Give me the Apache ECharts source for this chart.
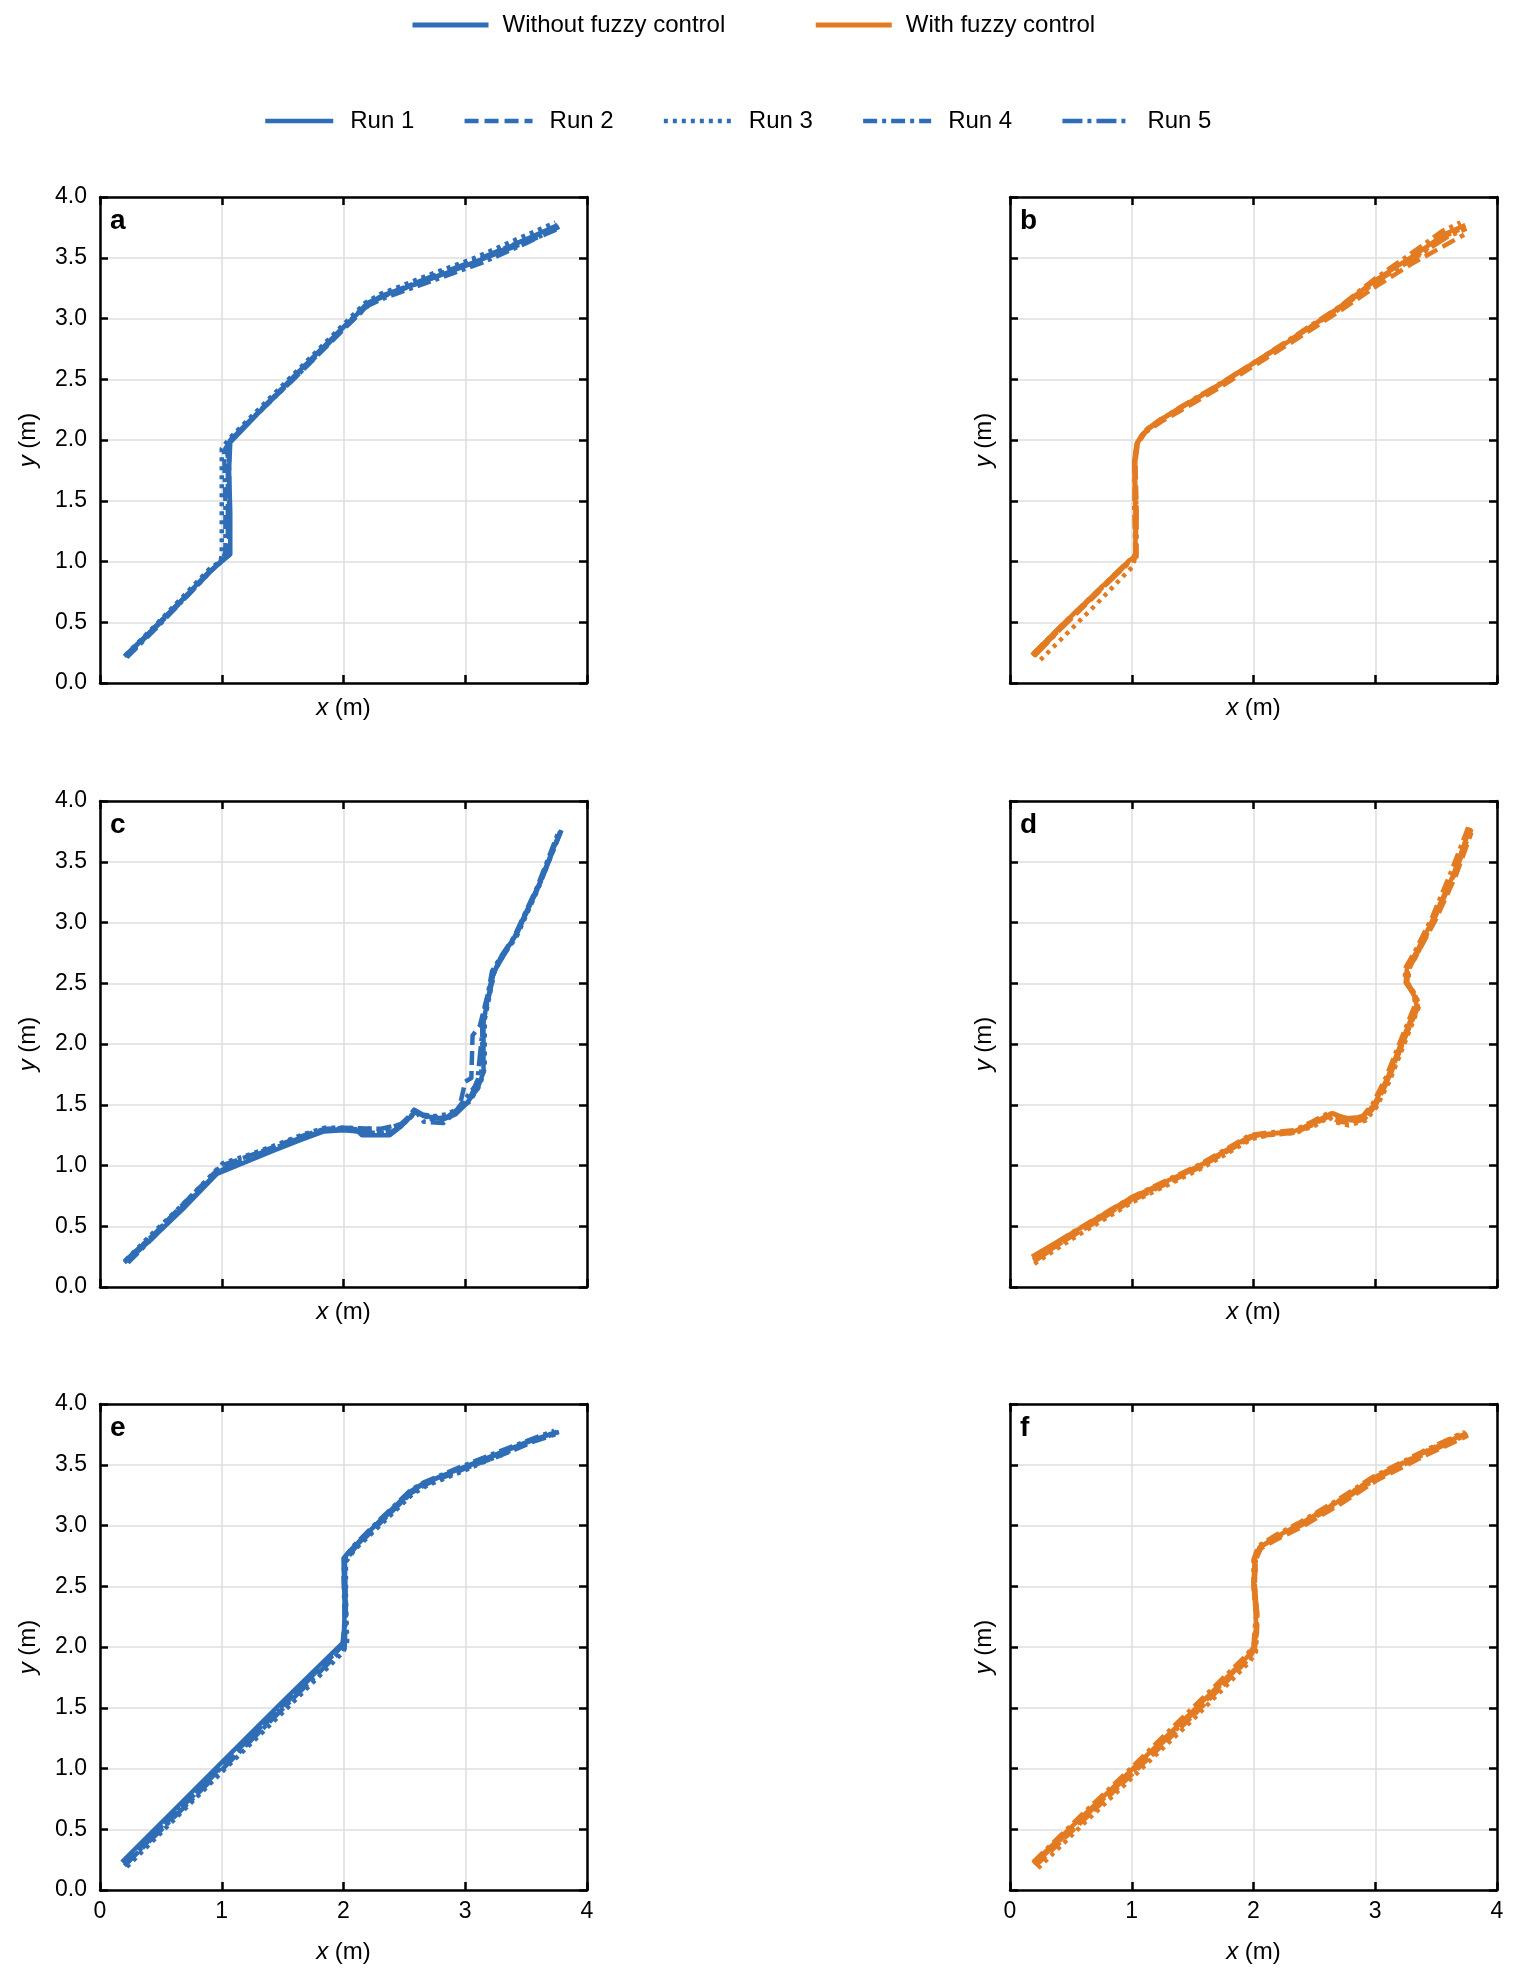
<!DOCTYPE html>
<html>
<head>
    <meta charset="UTF-8"/>
    <script type="text/javascript" src="https://cdn.jsdelivr.net/npm/echarts@6/dist/echarts.min.js"></script>
    <title>Trajectories</title>
    <style>
        html, body { margin: 0; padding: 0; background: #fff; }
        #chart { width: 1515px; height: 1979px; }
    </style>
</head>
<body>
<div id="chart"></div>

<script type="application/javascript">
    // ---- data: [x, y] in metres ----
    // a: without fuzzy control
    var a1 = [[0.20,0.22],[0.42,0.43],[0.68,0.69],[0.90,0.92],[1.00,1.00],[1.07,1.06],[1.07,1.40],[1.06,1.75],[1.07,1.98],[1.30,2.22],[1.62,2.55],[1.95,2.88],[2.20,3.12],[2.32,3.19],[2.70,3.32],[3.10,3.47],[3.45,3.63],[3.76,3.77]];
    var a2 = [[0.22,0.22],[0.45,0.45],[0.70,0.70],[0.92,0.93],[1.02,1.02],[1.05,1.06],[1.05,1.45],[1.05,1.95],[1.09,2.02],[1.35,2.27],[1.65,2.56],[1.98,2.89],[2.22,3.13],[2.35,3.19],[2.72,3.33],[3.12,3.48],[3.48,3.62],[3.77,3.74]];
    var a3 = [[0.21,0.23],[0.44,0.46],[0.69,0.72],[0.90,0.94],[0.99,1.00],[1.00,1.06],[1.00,1.50],[1.00,1.93],[1.06,2.01],[1.33,2.28],[1.64,2.59],[1.96,2.91],[2.18,3.13],[2.30,3.20],[2.68,3.35],[3.08,3.50],[3.44,3.66],[3.74,3.79]];
    var a4 = [[0.22,0.21],[0.46,0.45],[0.71,0.71],[0.93,0.94],[1.01,1.02],[1.03,1.08],[1.03,1.50],[1.02,1.90],[1.07,2.00],[1.34,2.26],[1.66,2.57],[1.97,2.89],[2.21,3.11],[2.34,3.17],[2.73,3.31],[3.14,3.46],[3.50,3.62],[3.78,3.76]];
    var a5 = [[0.21,0.22],[0.45,0.46],[0.70,0.71],[0.91,0.93],[1.00,1.01],[1.06,1.05],[1.06,1.30],[1.06,1.85],[1.03,1.93],[1.08,2.01],[1.34,2.27],[1.65,2.58],[1.97,2.90],[2.20,3.13],[2.31,3.18],[2.71,3.34],[3.11,3.49],[3.47,3.64],[3.76,3.75]];

    // b: with fuzzy control
    var b1 = [[0.18,0.23],[0.42,0.47],[0.70,0.74],[0.95,0.98],[1.03,1.05],[1.03,1.40],[1.02,1.80],[1.04,1.96],[1.10,2.06],[1.23,2.16],[1.38,2.25],[1.70,2.44],[2.00,2.63],[2.35,2.85],[2.70,3.09],[3.01,3.32],[3.35,3.54],[3.58,3.70],[3.74,3.77]];
    var b2 = [[0.19,0.22],[0.43,0.46],[0.71,0.73],[0.96,0.98],[1.03,1.04],[1.04,1.45],[1.03,1.82],[1.05,1.97],[1.11,2.06],[1.24,2.15],[1.40,2.24],[1.72,2.43],[2.02,2.62],[2.37,2.84],[2.72,3.07],[3.03,3.28],[3.30,3.45],[3.55,3.59],[3.73,3.69]];
    var b3 = [[0.25,0.19],[0.45,0.39],[0.72,0.66],[0.95,0.90],[1.01,0.96],[1.03,1.05],[1.03,1.50],[1.02,1.85],[1.05,1.98],[1.11,2.07],[1.24,2.17],[1.39,2.26],[1.71,2.45],[2.01,2.64],[2.36,2.86],[2.71,3.08],[3.02,3.31],[3.36,3.53],[3.60,3.69],[3.73,3.75]];
    var b4 = [[0.19,0.24],[0.43,0.48],[0.71,0.75],[0.96,0.99],[1.03,1.06],[1.02,1.45],[1.03,1.84],[1.05,1.99],[1.11,2.08],[1.24,2.17],[1.38,2.26],[1.70,2.45],[2.01,2.64],[2.36,2.87],[2.71,3.10],[3.00,3.33],[3.33,3.56],[3.55,3.72],[3.70,3.79]];
    var b5 = [[0.20,0.22],[0.44,0.47],[0.71,0.74],[0.97,0.98],[1.04,1.04],[1.04,1.42],[1.02,1.82],[1.04,1.97],[1.10,2.07],[1.22,2.16],[1.37,2.25],[1.69,2.44],[1.99,2.63],[2.34,2.85],[2.70,3.08],[3.02,3.31],[3.36,3.52],[3.59,3.67],[3.75,3.74]];

    // c: without fuzzy control
    var c1 = [[0.22,0.21],[0.45,0.42],[0.70,0.66],[0.96,0.93],[1.20,1.03],[1.42,1.12],[1.65,1.21],[1.84,1.28],[2.00,1.29],[2.12,1.28],[2.15,1.25],[2.38,1.25],[2.47,1.32],[2.59,1.44],[2.66,1.41],[2.82,1.38],[2.92,1.42],[3.01,1.51],[3.10,1.63],[3.15,1.77],[3.15,2.18],[3.18,2.35],[3.23,2.57],[3.29,2.71],[3.40,2.87],[3.60,3.30],[3.78,3.75]];
    var c2 = [[0.20,0.20],[0.44,0.43],[0.70,0.70],[1.00,1.00],[1.20,1.07],[1.42,1.15],[1.65,1.24],[1.84,1.30],[2.00,1.31],[2.30,1.30],[2.47,1.34],[2.59,1.45],[2.70,1.38],[2.85,1.40],[2.95,1.47],[3.00,1.69],[3.05,1.72],[3.06,2.07],[3.12,2.15],[3.17,2.35],[3.23,2.58],[3.30,2.72],[3.42,2.90],[3.61,3.32],[3.79,3.76]];
    var c3 = [[0.21,0.22],[0.44,0.45],[0.70,0.70],[1.01,1.02],[1.20,1.08],[1.42,1.16],[1.65,1.25],[1.84,1.31],[2.00,1.31],[2.35,1.30],[2.50,1.35],[2.60,1.44],[2.68,1.40],[2.85,1.42],[3.03,1.52],[3.12,1.66],[3.16,1.80],[3.16,2.20],[3.20,2.40],[3.24,2.60],[3.32,2.74],[3.42,2.88],[3.60,3.28],[3.77,3.72]];
    var c4 = [[0.23,0.20],[0.46,0.43],[0.71,0.68],[0.97,0.95],[1.20,1.05],[1.42,1.13],[1.65,1.22],[1.84,1.29],[2.10,1.30],[2.14,1.27],[2.40,1.27],[2.50,1.35],[2.59,1.45],[2.66,1.36],[2.82,1.35],[2.90,1.42],[3.00,1.55],[3.08,1.65],[3.14,1.80],[3.14,2.20],[3.18,2.38],[3.22,2.60],[3.30,2.73],[3.40,2.88],[3.59,3.29],[3.76,3.73]];
    var c5 = [[0.20,0.21],[0.45,0.44],[0.71,0.69],[0.98,0.96],[1.20,1.06],[1.42,1.14],[1.65,1.23],[1.84,1.29],[2.05,1.30],[2.12,1.28],[2.40,1.28],[2.48,1.33],[2.58,1.46],[2.65,1.42],[2.82,1.39],[2.92,1.43],[3.05,1.58],[3.10,1.70],[3.13,2.00],[3.15,2.20],[3.19,2.37],[3.24,2.60],[3.31,2.72],[3.41,2.88],[3.61,3.31],[3.79,3.76]];

    // d: with fuzzy control
    var d1 = [[0.18,0.25],[0.47,0.42],[0.99,0.73],[1.56,1.00],[1.97,1.24],[2.11,1.26],[2.33,1.28],[2.49,1.35],[2.64,1.43],[2.71,1.40],[2.79,1.39],[2.90,1.40],[2.99,1.50],[3.10,1.72],[3.23,2.05],[3.34,2.32],[3.32,2.40],[3.25,2.51],[3.26,2.62],[3.34,2.76],[3.48,3.04],[3.64,3.39],[3.78,3.78]];
    var d2 = [[0.19,0.22],[0.48,0.40],[1.00,0.71],[1.57,0.99],[1.98,1.23],[2.12,1.25],[2.34,1.27],[2.50,1.34],[2.63,1.41],[2.70,1.36],[2.80,1.35],[2.91,1.38],[3.00,1.49],[3.11,1.71],[3.24,2.04],[3.35,2.30],[3.33,2.38],[3.26,2.50],[3.27,2.61],[3.35,2.75],[3.50,3.03],[3.66,3.38],[3.79,3.74]];
    var d3 = [[0.20,0.19],[0.50,0.39],[1.01,0.70],[1.58,0.98],[1.99,1.22],[2.13,1.25],[2.35,1.27],[2.51,1.33],[2.62,1.40],[2.66,1.36],[2.78,1.33],[2.92,1.37],[3.01,1.48],[3.12,1.70],[3.25,2.03],[3.36,2.31],[3.34,2.39],[3.27,2.50],[3.28,2.62],[3.36,2.77],[3.50,3.06],[3.65,3.40],[3.77,3.76]];
    var d4 = [[0.19,0.24],[0.48,0.43],[1.00,0.74],[1.56,1.01],[1.97,1.25],[2.11,1.27],[2.33,1.29],[2.48,1.36],[2.63,1.44],[2.70,1.41],[2.80,1.38],[2.90,1.41],[2.98,1.51],[3.09,1.73],[3.22,2.06],[3.33,2.33],[3.31,2.42],[3.24,2.52],[3.25,2.63],[3.33,2.77],[3.47,3.05],[3.62,3.41],[3.77,3.80]];
    var d5 = [[0.20,0.21],[0.49,0.41],[1.00,0.72],[1.57,1.00],[1.98,1.24],[2.12,1.26],[2.34,1.28],[2.50,1.35],[2.65,1.42],[2.72,1.38],[2.82,1.37],[2.91,1.39],[3.00,1.50],[3.11,1.72],[3.24,2.05],[3.35,2.31],[3.33,2.40],[3.26,2.51],[3.27,2.62],[3.35,2.76],[3.49,3.04],[3.65,3.39],[3.79,3.77]];

    // e: without fuzzy control
    var e1 = [[0.18,0.23],[0.60,0.65],[1.00,1.05],[1.50,1.55],[2.00,2.04],[2.01,2.30],[2.00,2.73],[2.08,2.82],[2.30,3.04],[2.55,3.28],[2.66,3.35],[2.99,3.48],[3.29,3.60],[3.55,3.70],[3.75,3.77]];
    var e2 = [[0.20,0.22],[0.61,0.63],[1.01,1.03],[1.51,1.53],[2.00,2.02],[2.02,2.35],[2.01,2.70],[2.09,2.81],[2.31,3.03],[2.56,3.27],[2.68,3.34],[3.00,3.47],[3.30,3.58],[3.56,3.69],[3.74,3.75]];
    var e3 = [[0.22,0.19],[0.62,0.59],[1.02,0.99],[1.52,1.48],[2.00,1.96],[2.03,2.05],[2.02,2.40],[2.02,2.70],[2.09,2.80],[2.32,3.02],[2.57,3.26],[2.69,3.33],[3.01,3.46],[3.31,3.59],[3.57,3.70],[3.76,3.76]];
    var e4 = [[0.21,0.21],[0.61,0.62],[1.01,1.02],[1.51,1.52],[1.99,2.01],[2.01,2.20],[2.00,2.60],[2.01,2.74],[2.08,2.83],[2.30,3.05],[2.55,3.29],[2.67,3.36],[2.98,3.49],[3.28,3.61],[3.54,3.71],[3.73,3.78]];
    var e5 = [[0.20,0.20],[0.62,0.61],[1.02,1.01],[1.52,1.51],[2.01,2.00],[2.02,2.28],[2.01,2.65],[2.02,2.75],[2.09,2.82],[2.31,3.04],[2.56,3.28],[2.67,3.35],[3.00,3.48],[3.30,3.60],[3.56,3.71],[3.77,3.77]];

    // f: with fuzzy control
    var f1 = [[0.19,0.22],[0.60,0.61],[0.99,0.98],[1.50,1.47],[1.95,1.92],[2.00,2.00],[2.02,2.15],[2.02,2.27],[2.00,2.51],[2.01,2.73],[2.05,2.82],[2.19,2.91],[2.38,3.01],[2.70,3.20],[2.99,3.39],[3.40,3.60],[3.75,3.76]];
    var f2 = [[0.21,0.20],[0.62,0.59],[1.01,0.96],[1.52,1.45],[1.96,1.90],[2.01,1.98],[2.03,2.15],[2.03,2.28],[2.01,2.52],[2.02,2.72],[2.06,2.81],[2.20,2.89],[2.40,2.99],[2.72,3.18],[3.01,3.37],[3.42,3.58],[3.76,3.74]];
    var f3 = [[0.23,0.18],[0.63,0.57],[1.02,0.94],[1.53,1.43],[1.97,1.88],[2.02,1.96],[2.03,2.15],[2.02,2.30],[2.01,2.50],[2.02,2.74],[2.06,2.83],[2.20,2.92],[2.39,3.02],[2.71,3.21],[3.00,3.40],[3.41,3.61],[3.74,3.77]];
    var f4 = [[0.19,0.23],[0.59,0.62],[0.98,0.99],[1.49,1.49],[1.94,1.93],[2.00,2.01],[2.01,2.15],[2.02,2.26],[2.00,2.50],[2.00,2.72],[2.04,2.83],[2.18,2.92],[2.37,3.02],[2.69,3.21],[2.98,3.40],[3.39,3.61],[3.73,3.77]];
    var f5 = [[0.20,0.21],[0.61,0.60],[1.00,0.97],[1.51,1.46],[1.95,1.91],[2.01,1.99],[2.02,2.14],[2.03,2.27],[2.01,2.51],[2.01,2.73],[2.05,2.82],[2.19,2.90],[2.39,3.00],[2.71,3.19],[3.00,3.38],[3.41,3.59],[3.76,3.75]];

    var runNames = ['Run 1', 'Run 2', 'Run 3', 'Run 4', 'Run 5'];
    var groupNames = ['Without fuzzy control', 'With fuzzy control'];
    var panelLetters = ['a', 'b', 'c', 'd', 'e', 'f'];
    var xTicks = [0, 1, 2, 3, 4];
    var yTicks = [0, 0.5, 1, 1.5, 2, 2.5, 3, 3.5, 4];

    var BLUE = '#2f6eb6';
    var ORANGE = '#e27b22';
    var FONT = 'Liberation Sans, Arial, Helvetica, sans-serif';

    var panelRuns = [
        [a1, a2, a3, a4, a5],
        [b1, b2, b3, b4, b5],
        [c1, c2, c3, c4, c5],
        [d1, d2, d3, d4, d5],
        [e1, e2, e3, e4, e5],
        [f1, f2, f3, f4, f5]
    ];

    // line styles for the five runs
    var dashes = ['solid', [14, 6], [4, 5], [14, 5, 4, 5], [20, 5, 4, 5]];

    var colLeft = [100, 1010];
    var rowTop = [197, 801, 1404];
    var plotW = 487, plotH = 486;

    function initChart() {
        var myChart = echarts.init(document.getElementById('chart'), null, {renderer: 'canvas'});

        var grids = [], xAxes = [], yAxes = [], series = [], graphics = [];
        var frameLine = {show: true, onZero: false, lineStyle: {color: '#000', width: 2.5}};
        var tick = {show: true, inside: true, length: 8, lineStyle: {color: '#000', width: 2.5}};
        var nameStyle = {
            fontSize: 24, fontFamily: FONT, color: '#000',
            rich: {i: {fontStyle: 'italic', fontSize: 24, fontFamily: FONT, color: '#000'}}
        };

        for (var p = 0; p < 6; p++) {
            var col = p % 2, row = Math.floor(p / 2);
            var left = colLeft[col], top = rowTop[row];
            var color = col === 0 ? BLUE : ORANGE;

            grids.push({left: left, top: top, width: plotW, height: plotH, containLabel: false});

            xAxes.push({
                gridIndex: p, type: 'value', position: 'bottom',
                min: xTicks[0], max: xTicks[xTicks.length - 1], interval: 1,
                axisLine: frameLine, axisTick: tick,
                axisLabel: {show: row === 2, fontSize: 23, fontFamily: FONT, color: '#000', margin: 10},
                splitLine: {show: true, lineStyle: {color: '#dedede', width: 1.5}},
                name: '{i|x} (m)', nameLocation: 'middle', nameGap: row === 2 ? 50 : 13,
                nameTextStyle: nameStyle
            });
            xAxes.push({
                gridIndex: p, type: 'value', position: 'top',
                min: xTicks[0], max: xTicks[xTicks.length - 1], interval: 1,
                axisLine: frameLine, axisTick: tick,
                axisLabel: {show: false}, splitLine: {show: false}
            });
            yAxes.push({
                gridIndex: p, type: 'value', position: 'left',
                min: yTicks[0], max: yTicks[yTicks.length - 1], interval: 0.5,
                axisLine: frameLine, axisTick: tick,
                axisLabel: {
                    show: col === 0, fontSize: 23, fontFamily: FONT, color: '#000', margin: 13,
                    formatter: function (v) { return v.toFixed(1); }
                },
                splitLine: {show: true, lineStyle: {color: '#dedede', width: 1.5}},
                name: '{i|y} (m)', nameLocation: 'middle', nameGap: col === 0 ? 60 : 14,
                nameTextStyle: nameStyle
            });
            yAxes.push({
                gridIndex: p, type: 'value', position: 'right',
                min: yTicks[0], max: yTicks[yTicks.length - 1], interval: 0.5,
                axisLine: frameLine, axisTick: tick,
                axisLabel: {show: false}, splitLine: {show: false}
            });

            var runs = panelRuns[p];
            for (var k = 0; k < runs.length; k++) {
                series.push({
                    name: runNames[k],
                    type: 'line',
                    xAxisIndex: p * 2,
                    yAxisIndex: p * 2,
                    data: runs[k],
                    symbol: 'none',
                    color: color,
                    lineStyle: {color: color, width: 4.5, type: dashes[k], cap: 'butt', join: 'round'},
                    silent: true,
                    z: 3
                });
            }

            graphics.push({
                type: 'text', left: left + 10, top: top + 10,
                style: {text: panelLetters[p], font: 'bold 28px ' + FONT, fill: '#000'}
            });
        }

        // empty series that only feed the colour legend
        series.push({name: groupNames[0], type: 'line', data: [], symbol: 'none', color: BLUE,
            lineStyle: {color: BLUE, width: 5}, xAxisIndex: 0, yAxisIndex: 0});
        series.push({name: groupNames[1], type: 'line', data: [], symbol: 'none', color: ORANGE,
            lineStyle: {color: ORANGE, width: 5}, xAxisIndex: 0, yAxisIndex: 0});

        // legend symbols are hidden, only the line samples are kept
        var noMarker = {color: 'rgba(0,0,0,0)', borderWidth: 0, borderColor: 'rgba(0,0,0,0)'};

        var option = {
            animation: false,
            backgroundColor: '#fff',
            textStyle: {fontFamily: FONT},
            legend: [
                {
                    data: groupNames, left: 410, top: 13, padding: 0,
                    itemWidth: 76, itemHeight: 24, itemGap: 88,
                    lineStyle: {width: 5},
                    itemStyle: noMarker,
                    selectedMode: false,
                    textStyle: {fontSize: 24, fontFamily: FONT, color: '#000', padding: [0, 0, 0, 9]}
                },
                {
                    data: runNames, left: 263, top: 109, padding: 0,
                    itemWidth: 68, itemHeight: 24, itemGap: 48,
                    lineStyle: {width: 4.5},
                    itemStyle: noMarker,
                    selectedMode: false,
                    textStyle: {fontSize: 24, fontFamily: FONT, color: '#000', padding: [0, 0, 0, 12]}
                }
            ],
            grid: grids,
            xAxis: xAxes,
            yAxis: yAxes,
            series: series,
            graphic: graphics
        };
        myChart.setOption(option);
    }

    initChart();
</script>
</body>
</html>
